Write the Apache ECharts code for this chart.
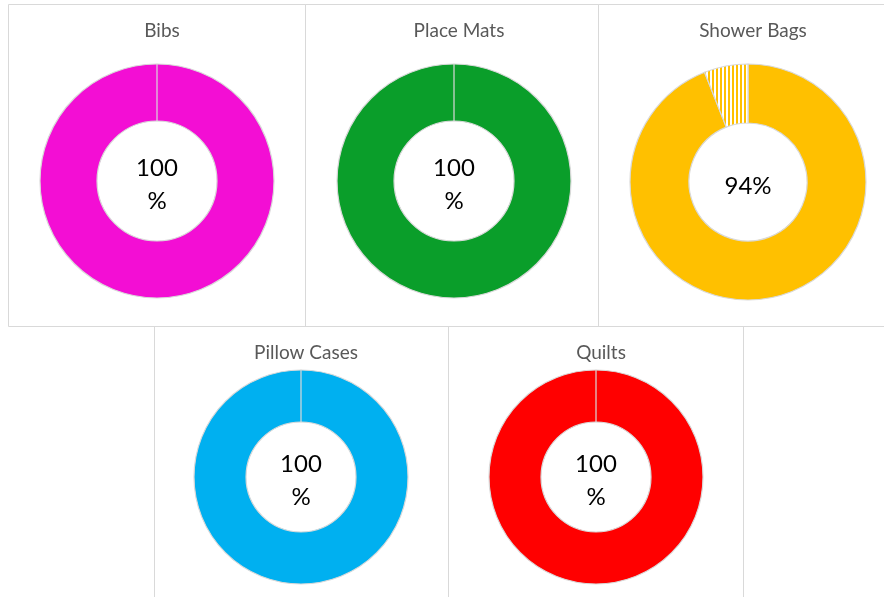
<!DOCTYPE html>
<html>
<head>
<meta charset="utf-8">
<script src="https://cdn.jsdelivr.net/npm/echarts@6/dist/echarts.min.js"></script>
<style>
  html, body { margin: 0; padding: 0; background: #fff; }
  #chart-panel { width: 884px; height: 597px; }
</style>
</head>
<body>
<div id="chart-panel"></div>
<script>
// data
const names = ["Bibs", "Place Mats", "Shower Bags", "Pillow Cases", "Quilts"]
const values = [100, 100, 94, 100, 100]
const colors = ["#F30ED4", "#0A9E2A", "#FFC000", "#00B0F0", "#FF0000"]

// layout of each small donut: centre, radii, title position
const layout = [
  { c: [157, 181], r: [60, 117], t: [157, 16], box: [8.5, 4.5, 297, 322] },
  { c: [454, 181], r: [60, 117], t: [454, 16], box: [305.5, 4.5, 293, 322] },
  { c: [748, 182], r: [59, 118], t: [748, 16], box: [598.5, 4.5, 300, 322] },
  { c: [301, 477], r: [55, 107], t: [301, 338], box: [154.5, 326.5, 294, 280] },
  { c: [596, 477], r: [55, 107], t: [596, 338], box: [448.5, 326.5, 295, 280] }
]

// vertical stripe fill for the missing part
const stripe = (color) => {
  const cv = document.createElement("canvas")
  cv.width = 4
  cv.height = 4
  const ctx = cv.getContext("2d")
  ctx.fillStyle = "#fff"
  ctx.fillRect(0, 0, 4, 4)
  ctx.fillStyle = color
  ctx.fillRect(0, 0, 2, 4)
  return cv
}

const chart = echarts.init(document.getElementById("chart-panel"), null, { renderer: "canvas" })

const font = "Lato, 'Open Sans', sans-serif"

const titles = names.map((n, i) => ({
  text: n,
  left: layout[i].t[0],
  top: layout[i].t[1],
  textAlign: "center",
  textStyle: { fontFamily: font, fontSize: 19, fontWeight: "normal", color: "#595959" }
}))

const series = names.map((n, i) => {
  const v = values[i]
  return {
    type: "pie",
    name: n,
    center: layout[i].c,
    radius: layout[i].r,
    startAngle: 90,
    clockwise: true,
    silent: true,
    animation: false,
    avoidLabelOverlap: false,
    itemStyle: { borderColor: "#d9d9d9", borderWidth: 1.2 },
    labelLine: { show: false },
    data: [
      {
        name: n,
        value: v,
        itemStyle: { color: colors[i] },
        label: {
          show: true,
          position: "center",
          fontFamily: font,
          fontSize: 24,
          lineHeight: 33,
          offset: [0, 4],
          color: "#000",
          formatter: (p) => (p.value >= 100 ? p.value + "\n%" : p.value + "%")
        }
      },
      {
        name: "rest",
        value: 100 - v,
        itemStyle: { color: { image: stripe(colors[i]), repeat: "repeat" } },
        label: { show: false }
      }
    ]
  }
})

const graphic = layout.map((l) => ({
  type: "rect",
  silent: true,
  z: -1,
  shape: { x: l.box[0], y: l.box[1], width: l.box[2], height: l.box[3] },
  style: { fill: "none", stroke: "#d9d9d9", lineWidth: 1 }
}))

chart.setOption({
  backgroundColor: "#fff",
  title: titles,
  graphic: graphic,
  series: series
})
</script>
</body>
</html>
